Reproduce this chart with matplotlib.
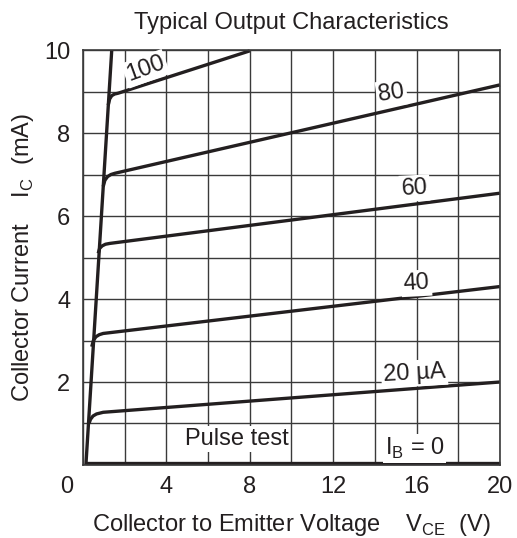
import matplotlib
matplotlib.use("Agg")
import matplotlib.pyplot as plt

plt.rcParams["font.family"] = ["Liberation Sans", "DejaVu Sans"]

INK = "#231f20"
FS = 17

# collector-emitter voltage (V) / collector current (mA) for each base current
vce_ib0 = [0.14, 20.0]
ic_ib0 = [0.04, 0.04]

vce_20 = [0.29, 0.36, 0.48, 0.65, 0.97, 20.0]
ic_20 = [1.0, 1.1, 1.18, 1.23, 1.27, 2.0]

vce_40 = [0.42, 0.5, 0.62, 0.78, 0.97, 20.0]
ic_40 = [2.85, 3.0, 3.09, 3.14, 3.17, 4.3]

vce_60 = [0.73, 0.8, 0.92, 1.08, 1.29, 20.0]
ic_60 = [5.1, 5.22, 5.28, 5.32, 5.34, 6.55]

vce_80 = [0.97, 1.05, 1.18, 1.34, 1.53, 20.0]
ic_80 = [6.71, 6.86, 6.95, 7.0, 7.03, 9.16]

vce_100 = [1.21, 1.28, 1.38, 1.52, 1.69, 8.0]
ic_100 = [8.67, 8.82, 8.9, 8.94, 8.96, 9.98]

# saturation boundary
vce_sat = [0.14, 1.38]
ic_sat = [0.0, 10.0]

x_ticks = [4, 8, 12, 16, 20]
y_ticks = [2, 4, 6, 8, 10]

fig = plt.figure(figsize=(5.17, 5.38), dpi=100)
ax = fig.add_axes([0.1605, 0.1357, 0.8065, 0.7713])

ax.set_xlim(0, 20)
ax.set_ylim(0, 10)
ax.set_xticks(range(0, 21, 2))
ax.set_yticks(range(0, 11, 1))
ax.grid(True, color="#3a3a3a", linewidth=1.0)
ax.set_axisbelow(True)
ax.set_xticklabels([str(v) if v in x_ticks else "" for v in range(0, 21, 2)])
ax.set_yticklabels([str(v) if v in y_ticks else "" for v in range(0, 11, 1)])
ax.tick_params(axis="x", length=0, labelsize=FS, colors=INK, pad=8)
ax.tick_params(axis="y", length=0, labelsize=FS, colors=INK, pad=9)
for spine in ax.spines.values():
    spine.set_color("#3a3a3a")
    spine.set_linewidth(1.2)

# origin label sits off to the left of the corner
ax.annotate("0", xy=(0, 0), xycoords="data", xytext=(-16, -11),
            textcoords="offset pixels", ha="center", va="top",
            fontsize=FS, color=INK)

curves = [
    (vce_ib0, ic_ib0),
    (vce_20, ic_20),
    (vce_40, ic_40),
    (vce_60, ic_60),
    (vce_80, ic_80),
    (vce_100, ic_100),
    (vce_sat, ic_sat),
]
for xs, ys in curves:
    ax.plot(xs, ys, color=INK, linewidth=2.4, solid_capstyle="butt",
            solid_joinstyle="round", clip_on=False)

box = dict(facecolor="white", edgecolor="none", pad=1.5)
ax.text(3.0, 9.55, "100", rotation=20, fontsize=FS, ha="center", va="center",
        color=INK, bbox=box)
ax.text(14.8, 8.96, "80", rotation=8, fontsize=FS, ha="center", va="center",
        color=INK, bbox=box)
ax.text(15.9, 6.67, "60", rotation=3, fontsize=FS, ha="center", va="center",
        color=INK, bbox=box)
ax.text(16.0, 4.38, "40", rotation=3, fontsize=FS, ha="center", va="center",
        color=INK, bbox=box)
ax.text(15.9, 2.21, "20 \u00b5A", rotation=3, fontsize=FS, ha="center", va="center",
        color=INK, bbox=box)
ax.text(15.9, 0.4, "I$_\\mathregular{B}$ = 0", fontsize=FS, ha="center", va="center",
        color=INK, bbox=box)
ax.text(7.36, 0.63, "Pulse test", fontsize=FS, ha="center", va="center",
        color=INK, bbox=box)

ax.set_title("Typical Output Characteristics", fontsize=FS, color=INK, pad=15)
ax.set_xlabel("Collector to Emitter Voltage    V$_\\mathregular{CE}$  (V)",
              fontsize=FS, color=INK, labelpad=10)
ax.set_ylabel("Collector Current    I$_\\mathregular{C}$  (mA)",
              fontsize=FS, color=INK, labelpad=6)

fig.savefig("out.png", dpi=100)
